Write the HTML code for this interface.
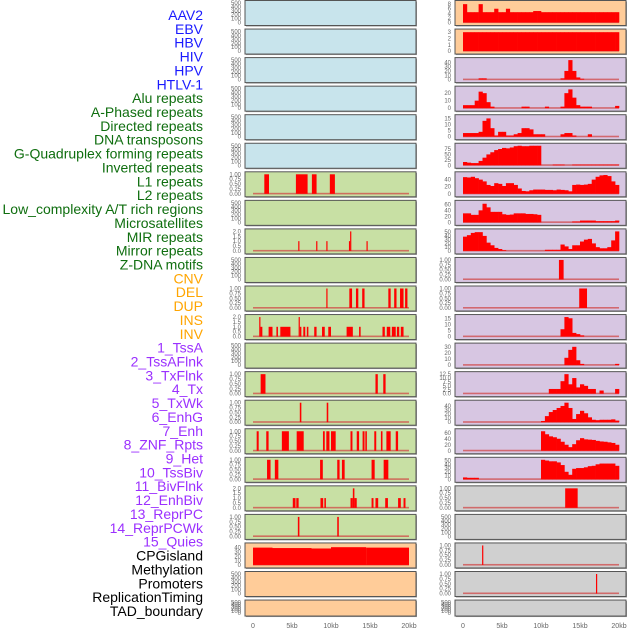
<!DOCTYPE html>
<html><head><meta charset="utf-8"><style>
html,body{margin:0;padding:0;background:#fff;width:630px;height:630px;overflow:hidden}
svg{display:block;font-family:"Liberation Sans",sans-serif}
</style></head><body>
<svg id="chart" width="630" height="630" viewBox="0 0 630 630"></svg>
<script>
// ---------- DATA ----------
const labels = ["AAV2","EBV","HBV","HIV","HPV","HTLV-1","Alu repeats","A-Phased repeats","Directed repeats","DNA transposons","G-Quadruplex forming repeats","Inverted repeats","L1 repeats","L2 repeats","Low_complexity A/T rich regions","Microsatellites","MIR repeats","Mirror repeats","Z-DNA motifs","CNV","DEL","DUP","INS","INV","1_TssA","2_TssAFlnk","3_TxFlnk","4_Tx","5_TxWk","6_EnhG","7_Enh","8_ZNF_Rpts","9_Het","10_TssBiv","11_BivFlnk","12_EnhBiv","13_ReprPC","14_ReprPCWk","15_Quies","CPGisland","Methylation","Promoters","ReplicationTiming","TAD_boundary"];
const labelGroups = [6,13,5,15,5];
const xTicks = [0,5,10,15,20];
const xTickLabels = ["0","5kb","10kb","15kb","20kb"];
const T500 = ["0","100","200","300","400","500"];
const T1 = ["0.00","0.25","0.50","0.75","1.00"];
const T2 = ["0.0","0.5","1.0","1.5","2.0"];
const leftTicks = [T500,T500,T500,T500,T500,T500,T1,T500,T2,T500,T1,T2,T500,T1,T1,T1,T1,T2,T1,["0","10","20","30","40"],T500,T500];
const leftMax = [500,500,500,500,500,500,1,500,2,500,1,2,500,1,1,1,1,2,1,45,500,500];
const leftColors = ["#c8e4ec","#c8e4ec","#c8e4ec","#c8e4ec","#c8e4ec","#c8e4ec","#c8e0a4","#c8e0a4","#c8e0a4","#c8e0a4","#c8e0a4","#c8e0a4","#c8e0a4","#c8e0a4","#c8e0a4","#c8e0a4","#c8e0a4","#c8e0a4","#c8e0a4","#ffcc99","#ffcc99","#ffcc99"];
// segments [startKb, endKb, value]
const leftSegs = [[],[],[],[],[],[],
 [[1.45,2.05,1],[5.5,7.0,1],[7.55,8.15,1],[9.85,10.5,1]],
 [],
 [[5.8,5.95,1],[8.1,8.25,1],[9.4,9.55,1],[12.3,12.45,1],[12.45,12.6,2],[14.55,14.7,1]],
 [],
 [[9.4,9.55,1],[12.35,12.7,1],[13.2,13.5,1],[14.0,14.3,1],[17.35,17.65,1],[18.1,18.4,1],[18.85,19.3,1],[19.5,19.8,1]],
 [[0.8,0.95,2],[0.95,1.2,1],[2.0,2.5,1],[3.0,3.2,1],[3.5,4.8,1],[5.85,6.0,2],[6.0,6.2,1],[6.45,6.7,1],[6.9,7.1,1],[7.85,8.15,1],[8.85,9.2,1],[9.65,10.0,1],[12.0,12.8,1],[13.6,13.8,1],[16.6,16.9,1],[17.15,17.6,1],[17.8,18.3,1],[18.45,18.75,1],[18.95,19.3,1]],
 [],
 [[0.98,1.6,1],[15.7,16.0,1],[16.7,17.0,1]],
 [[6.0,6.2,1],[9.45,9.65,1]],
 [[0.47,0.73,1],[1.7,2.0,1],[3.7,4.6,1],[5.6,6.5,1],[8.97,9.2,1],[9.4,9.8,1],[10.0,10.6,1],[12.5,12.75,1],[13.3,13.6,1],[14.05,14.3,1],[14.4,14.6,1],[15.55,15.8,1],[16.4,16.6,1],[17.1,17.65,1],[18.3,18.6,1]],
 [[1.8,2.25,1],[2.8,3.25,1],[8.6,8.95,1],[10.8,11.1,1],[11.4,11.75,1],[15.2,15.6,1],[16.75,17.35,1]],
 [[5.1,5.45,1],[5.55,5.85,1],[8.65,9.0,1],[9.15,9.35,1],[12.5,12.8,1],[12.8,13.0,2],[13.0,13.3,1],[15.2,15.45,1],[15.7,16.05,1],[16.95,17.3,1],[18.6,18.95,1],[19.3,19.55,1]],
 [[5.75,5.95,1],[10.8,11.0,1]],
 [[0,2.5,40],[2.5,7.5,39],[7.5,10,38],[10,14.5,41],[14.5,20,40]],
 [],[]];
const rightTicks = [["0","2","4","6","8"],["0","1","2","3"],["0","10","20","30","40"],["0","10","20"],["0","5","10","15"],["0","25","50","75"],["0","20","40"],["0","20","40","60"],["0","10","20","30","40","50"],T1,T1,["0","5","10","15"],["0","10","20","30"],["0.0","2.5","5.0","7.5","10.0","12.5"],["0","10","20","30","40"],["0","20","40","60"],["0","10","20","30","40","50"],T1,T500,T1,T1,T500];
const rightMax = [8.5,3.1,45,26,16,90,55,65,52,1,1,16,32,12.5,48,65,52,1,500,1,1,500];
const rightColors = ["#ffcc99","#ffcc99","#d7c6e2","#d7c6e2","#d7c6e2","#d7c6e2","#d7c6e2","#d7c6e2","#d7c6e2","#d7c6e2","#d7c6e2","#d7c6e2","#d7c6e2","#d7c6e2","#d7c6e2","#d7c6e2","#d7c6e2","#d0d0d0","#d0d0d0","#d0d0d0","#d0d0d0","#d0d0d0"];
// 40 bins of 0.5kb each
const rightBins = [
 [8,4.5,4.5,4.5,8,4.5,4.5,4.5,6,4.5,4.5,6,4.5,4.5,4.5,4.5,4.5,4.5,5,5,4.5,4.5,4.5,4.5,4.5,4.5,4.5,4.5,4.5,4.5,4.5,4.5,4.5,4.5,4.5,4.5,4.5,4.5,4.5,4.5],
 [3,3,3,3,3,3,3,3,3,3,3,3,3,3,3,3,3,3,3,3,3,3,3,3,3,3,3,3,3,3,3,3,3,3,3,3,3,3,3,3],
 [0,0,0,0,3,3,0,0,0,0,0,0,0,0,0,0,0,0,0,0,0,0,0,0,0,3,20,45,20,5,2,0,0,0,0,0,0,0,0,0],
 [4,4,4,10,22,20,8,2,0,0,0,0,0,0,0,2,2,0,0,0,0,2,0,0,0,2,20,25,14,4,2,2,2,0,0,0,0,0,0,3],
 [3,3,3,3,4,13,15,7,1,4,4,1,1,2,3,7,7,6,2,2,2,0,0,0,0,2,3,3,1,0,0,0,2,0,0,0,0,0,0,0],
 [15,12,10,10,20,35,50,60,70,75,80,78,82,88,90,88,88,90,90,90,0,0,0,3,3,3,0,0,3,3,3,3,3,3,3,3,3,3,3,3],
 [47,46,48,44,40,35,25,22,30,28,22,30,30,25,15,8,7,10,12,12,12,11,11,10,12,11,10,7,25,26,25,26,28,40,48,52,53,50,35,25],
 [30,30,25,25,40,62,50,35,35,35,27,25,26,30,30,30,28,28,27,25,0,0,0,0,0,0,0,0,3,3,6,6,6,6,4,4,4,4,4,6],
 [38,42,48,50,50,40,22,15,8,5,2,0,0,0,0,0,0,0,0,0,0,3,3,3,3,17,12,5,15,15,25,30,32,20,10,7,7,10,28,52],
 [],[],
 [0,0,0,0,0,0,0,0,0,0,0,0,0,0,0,0,0,0,0,0,0,0,0,0,0,6,16,15,3,2,1,0,0,0,0,0,0,0,0,0],
 [0,0,0,0,0,0,0,0,0,0,0,0,0,0,0,0,0,0,0,0,0,0,0,0,0,0,12,25,30,8,2,0,0,0,0,0,0,0,0,2],
 [0,0,0,0,0,0,0,0,0,0,0,0,0,0,0,0,0,0,0,0,0,0,3,3,3,8,12.5,6,10,4,6,5,3,3,0,2,0,0,0,3],
 [0,0,0,0,0,0,0,0,0,0,0,0,0,0,0,0,0,0,0,0,3,15,25,30,35,40,48,35,8,20,28,22,12,6,5,6,6,6,7,4],
 [0,0,0,0,0,0,0,0,0,0,0,0,0,0,0,0,0,0,0,0,65,55,48,45,40,30,20,12,22,35,42,38,37,36,33,31,30,28,26,20],
 [5,4,4,4,0,0,0,0,0,0,0,0,0,0,0,0,0,0,0,0,52,50,48,48,45,38,20,12,28,30,30,32,35,36,40,42,42,42,42,36],
 [],[],[],[],[]];
const rightSegs = [[],[],[],[],[],[],[],[],[],[[12.3,12.9,1]],[[14.9,15.9,1]],[],[],[],[],[],[],[[13.1,14.7,1]],[],[[2.45,2.6,1]],[[17.05,17.2,1]],[]];

// ---------- LAYOUT ----------
const svg = document.getElementById('chart');
const NS = 'http://www.w3.org/2000/svg';
function mk(tag, attrs, parent){const e=document.createElementNS(NS,tag);for(const k in attrs)e.setAttribute(k,attrs[k]);(parent||svg).appendChild(e);return e;}
const rowTop = i => 0.5 + i*28.55;
const rowH = i => i===21 ? 16 : 25;
const cols = [{x:245,w:171,x0:253,x1:409,tx:241},{x:455,w:171,x0:463,x1:619,tx:451}];
const groupColors = ["#1a1aff","#0f6e0f","#ffa500","#9b30ff","#000000"];

// labels
let gi=0, cnt=0;
labels.forEach((t,i)=>{
  while(cnt>=labelGroups[gi]){gi++;cnt=0;}
  cnt++;
  const e = mk('text',{x:203,y:15+i*13.86+5,'text-anchor':'end','font-size':'14',fill:groupColors[gi]});
  
  
  e.textContent=t;
});

function panel(i, c, color, ticks, max, bins, segs, side){
  const col=cols[c], top=rowTop(i), h=rowH(i);
  const yb = top+h-3, yt = top+2.5;
  const sx = kb => col.x0 + (col.x1-col.x0)*kb/20;
  const sy = v => yb - (yb-yt)*v/max;
  const g = mk('g',{});
  
  
  mk('rect',{x:col.x+1,y:top+1,width:col.w,height:h,fill:'#999'},g);
  const bg = mk('rect',{x:col.x,y:top,width:col.w,height:h,fill:color,stroke:'#555','stroke-width':1},g);
  
  
  ticks.forEach(t=>{
    const v=parseFloat(t);
    const e=mk('text',{x:col.tx,y:sy(v)+2,'text-anchor':'end','font-size':'6',fill:'#666'},g);
    
    
    e.textContent=t;
  });
  const hasData = (bins && bins.length) || (segs && segs.length);
  if(hasData){
    const bl=mk('rect',{x:sx(0),y:yb-1,width:sx(20)-sx(0),height:1.6,fill:'#d04040',opacity:0.7},g);
    
    
  }
  (bins||[]).forEach((v,k)=>{
    if(v<=0) return;
    const b=mk('rect',{x:sx(k*0.5),y:sy(v),width:sx((k+1)*0.5)-sx(k*0.5)+0.3,height:yb-sy(v),fill:'#ff0000'},g);
    
    
  });
  (segs||[]).forEach(s=>{
    const w=Math.max(sx(s[1])-sx(s[0]),1.2);
    const b=mk('rect',{x:sx(s[0]),y:sy(s[2]),width:w,height:yb-sy(s[2]),fill:'#ff0000'},g);
    
    
  });
}
for(let i=0;i<22;i++){
  panel(i,0,leftColors[i],leftTicks[i],leftMax[i],[],leftSegs[i],'left');
  panel(i,1,rightColors[i],rightTicks[i],rightMax[i],rightBins[i],rightSegs[i],'right');
}
// x axes
cols.forEach((col,c)=>{
  xTicks.forEach((t,k)=>{
    const e=mk('text',{x:col.x0+(col.x1-col.x0)*t/20,y:628,'text-anchor':'middle','font-size':'7',fill:'#666'});
    
    
    e.textContent=xTickLabels[k];
  });
});
</script>
</body></html>
